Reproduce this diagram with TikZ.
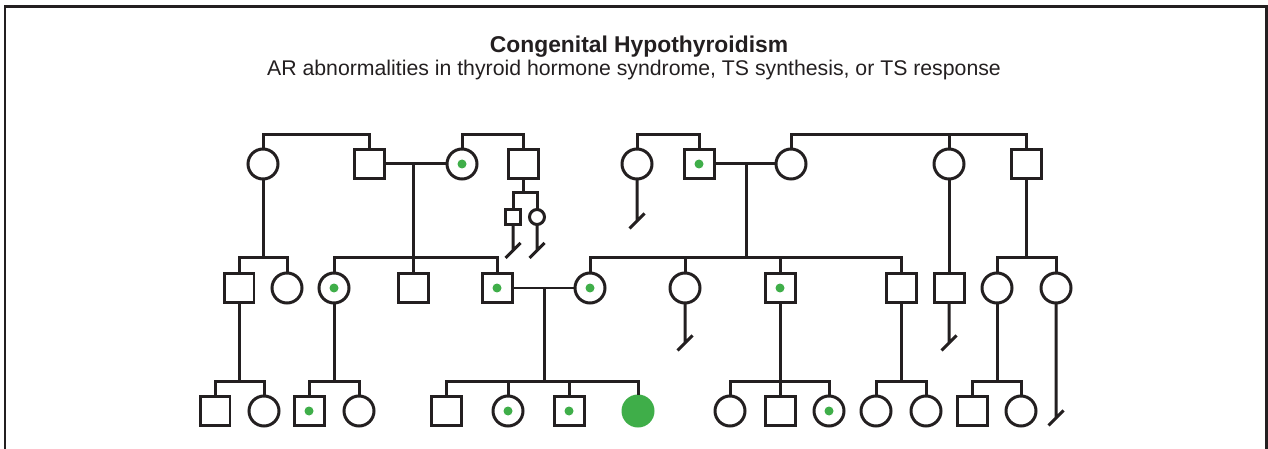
\documentclass[tikz,border=0pt]{standalone}
\usepackage{fontspec}
\setmainfont{Liberation Sans}
\usepackage{tikz}
\usetikzlibrary{positioning}

\definecolor{pedline}{HTML}{231F20}
\definecolor{pedgreen}{HTML}{3FAE49}

\begin{document}
\begin{tikzpicture}[x=0.02cm, y=-0.02cm, line width=0.06cm, draw=pedline]
    \tikzstyle{person} = [draw=pedline, line width=0.06cm, inner sep=0pt, outer sep=0pt, minimum size=0.6cm, fill=white]
    \tikzstyle{male} = [person, rectangle]
    \tikzstyle{female} = [person, circle]
    \tikzstyle{small} = [minimum size=0.3cm]
    \tikzstyle{carrier} = [path picture={\fill[pedgreen] (path picture bounding box.center) circle (0.09cm);}]
    \tikzstyle{affected} = [circle, fill=pedgreen, draw=pedgreen, minimum size=0.6cm, inner sep=0pt]
    \tikzstyle{line} = [draw=pedline, line width=0.06cm]

    \useasboundingbox (0,0) rectangle (1268,449);
    \draw [line] (5,460) -- (5,7) -- (1266,7) -- (1266,460);

    % titles
    \node [anchor=base, text=pedline, font=\bfseries\fontsize{13}{15}\selectfont] (title) at (639,53) {Congenital Hypothyroidism};
    \node [anchor=base, text=pedline, font=\fontsize{12.1}{14}\selectfont] (subtitle) at (634,76) {AR abnormalities in thyroid hormone syndrome, TS synthesis, or TS response};

    % generation I
    \node [female] (g1a) at (263,164) {};
    \node [male] (g1b) at (369,164) {};
    \node [female, carrier] (g1c) at (462,164) {};
    \node [male] (g1d) at (523,164) {};
    \node [male, small] (s1) at (513,217) {};
    \node [female, small] (s2) at (537,217) {};
    \node [female] (g1e) at (637,164) {};
    \node [male, carrier] (g1f) at (699,164) {};
    \node [female] (g1g) at (791,164) {};
    \node [female] (g1h) at (949,164) {};
    \node [male] (g1i) at (1026,164) {};

    % generation II
    \node [male] (g2a) at (239,288) {};
    \node [female] (g2b) at (287,288) {};
    \node [female, carrier] (g2c) at (334,288) {};
    \node [male] (g2d) at (413,288) {};
    \node [male, carrier] (g2e) at (497,288) {};
    \node [female, carrier] (g2f) at (590,288) {};
    \node [female] (g2g) at (685,288) {};
    \node [male, carrier] (g2h) at (780,288) {};
    \node [male] (g2i) at (901,288) {};
    \node [male] (g2j) at (949,288) {};
    \node [female] (g2k) at (997,288) {};
    \node [female] (g2l) at (1056,288) {};

    % generation III
    \node [male] (g3a) at (215,411) {};
    \node [female] (g3b) at (264,411) {};
    \node [male, carrier] (g3c) at (309,411) {};
    \node [female] (g3d) at (359,411) {};
    \node [male] (g3e) at (446,411) {};
    \node [female, carrier] (g3f) at (508,411) {};
    \node [male, carrier] (g3g) at (569,411) {};
    \node [affected] (g3h) at (638,411) {};
    \node [female] (g3i) at (730,411) {};
    \node [male] (g3j) at (780,411) {};
    \node [female, carrier] (g3k) at (829,411) {};
    \node [female] (g3l) at (876,411) {};
    \node [female] (g3m) at (926,411) {};
    \node [male] (g3n) at (972,411) {};
    \node [female] (g3o) at (1021,411) {};

    % marriage points and sibship junctions
    \coordinate (mBC) at (413,164);
    \coordinate (mFG) at (746,164);
    \coordinate (mEF) at (544,288);
    \coordinate (jD) at (523,193);
    \coordinate (jA) at (263,258);
    \coordinate (jBC) at (413,258);
    \coordinate (jFG) at (746,258);
    \coordinate (jI) at (1026,258);
    \coordinate (jEF) at (544,381);
    \coordinate (jJ) at (239,381);
    \coordinate (jL) at (334,381);
    \coordinate (jQ) at (780,381);
    \coordinate (jR) at (901,381);
    \coordinate (jT) at (997,381);

    % sibships of generation I
    \path [line] (g1a.north) -- ++(0,-15) -| (g1b.north);
    \path [line] (g1c.north) -- ++(0,-15) -| (g1d.north);
    \path [line] (g1e.north) -- ++(0,-15) -| (g1f.north);
    \path [line] (g1g.north) -- ++(0,-15) -| (g1i.north);
    \path [line] (g1h.north) -- ++(0,-15);

    % marriages
    \path [line] (g1b) -- (g1c);
    \path [line] (g1f) -- (g1g);
    \path [line] (g2e) -- (g2f);

    % descent lines
    \path [line] (mBC) -- (g2d.north);
    \path [line] (mFG) -- (jFG);
    \path [line] (mEF) -- (jEF);
    \path [line] (g1a) -- (jA);
    \path [line] (g1d) -- (jD);
    \path [line] (g1h) -- (g2j);
    \path [line] (g1i) -- (jI);
    \path [line] (g2a) -- (jJ);
    \path [line] (g2c) -- (jL);
    \path [line] (g2h) -- (g3j);
    \path [line] (g2i) -- (jR);
    \path [line] (g2k) -- (jT);

    % sibship lines
    \path [line] (s1.north) |- (jD) -| (s2.north);
    \path [line] (g2a.north) |- (jA) -| (g2b.north);
    \path [line] (g2c.north) |- (jBC) -| (g2e.north);
    \path [line] (g2f.north) |- (jFG) -| (g2i.north);
    \path [line] (g2g.north) -- (g2g.north |- jFG);
    \path [line] (g2h.north) -- (g2h.north |- jFG);
    \path [line] (g2k.north) |- (jI) -| (g2l.north);
    \path [line] (g3a.north) |- (jJ) -| (g3b.north);
    \path [line] (g3c.north) |- (jL) -| (g3d.north);
    \path [line] (g3e.north) |- (jEF) -| (g3h.north);
    \path [line] (g3f.north) -- (g3f.north |- jEF);
    \path [line] (g3g.north) -- (g3g.north |- jEF);
    \path [line] (g3i.north) |- (jQ) -| (g3k.north);
    \path [line] (g3l.north) |- (jR) -| (g3m.north);
    \path [line] (g3n.north) |- (jT) -| (g3o.north);

    % no offspring
    \path [line] (s1.south) -- ++(0,26) ++(-7.5,7.5) -- ++(15,-15);
    \path [line] (s2.south) -- ++(0,26) ++(-7.5,7.5) -- ++(15,-15);
    \path [line] (g1e.south) -- ++(0,42) ++(-7.5,7.5) -- ++(15,-15);
    \path [line] (g2g.south) -- ++(0,40) ++(-7.5,7.5) -- ++(15,-15);
    \path [line] (g2j.south) -- ++(0,40) ++(-7.5,7.5) -- ++(15,-15);
    \path [line] (g2l.south) -- ++(0,115) ++(-7.5,7.5) -- ++(15,-15);
\end{tikzpicture}
\end{document}
